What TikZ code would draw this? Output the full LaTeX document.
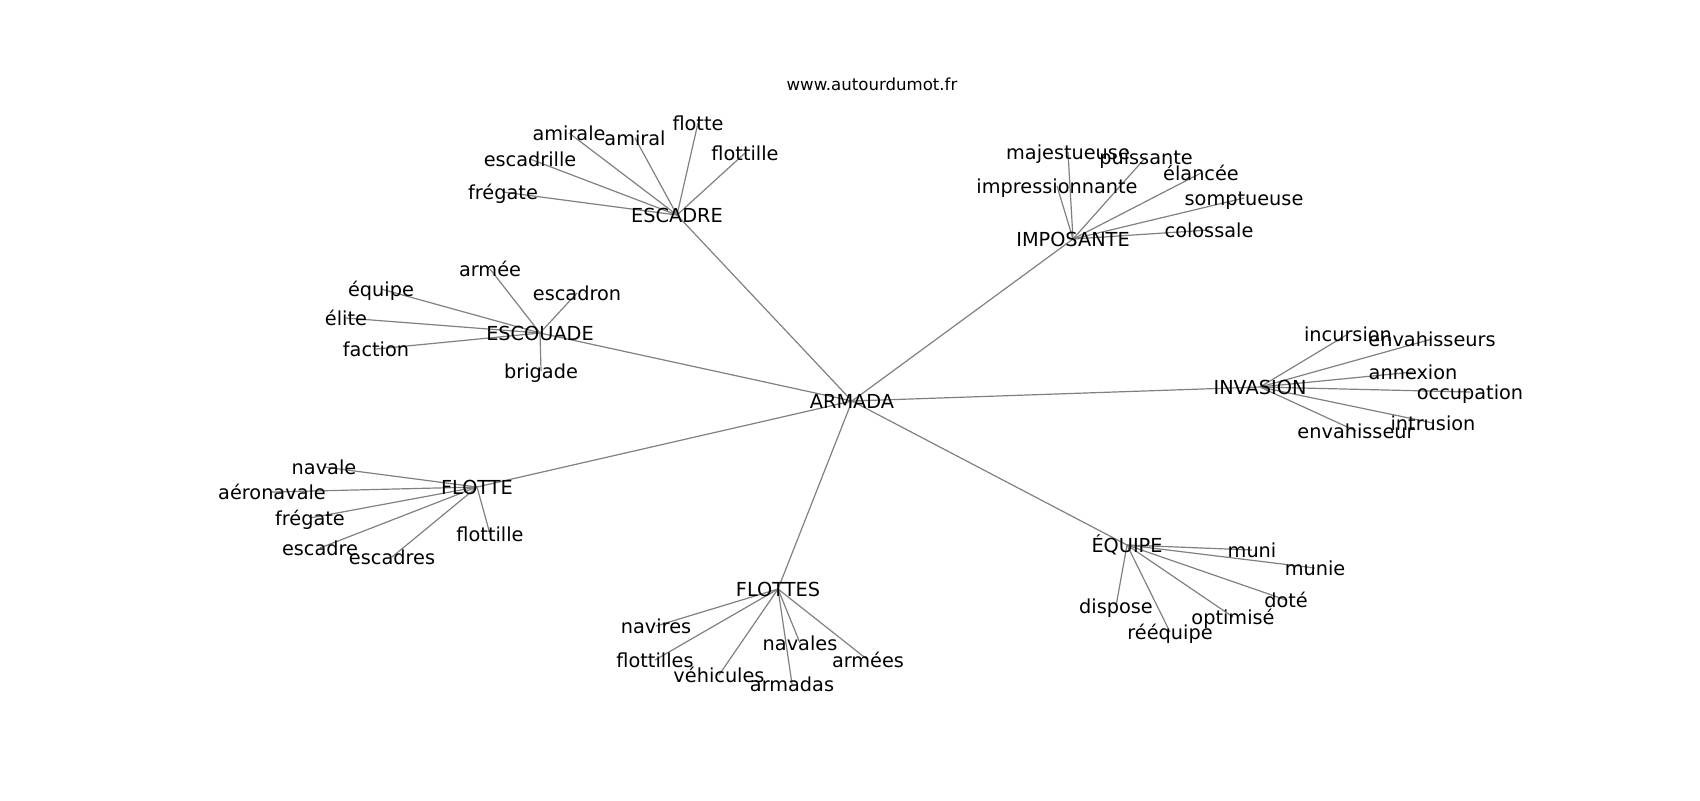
\documentclass[tikz,border=0pt]{standalone}
\usepackage{fontspec}
\setmainfont{DejaVu Sans}
\usetikzlibrary{backgrounds}
\begin{document}
\begin{tikzpicture}[x=0.5pt,y=-0.5pt,
  lbl/.style={inner sep=0pt, outer sep=0pt, font=\fontsize{9.65}{11}\selectfont, text height=0.73em, text depth=0pt, anchor=center},
  ttl/.style={inner sep=0pt, font=\fontsize{8.3}{10}\selectfont, text height=0.73em, text depth=0pt, anchor=center},
  edge/.style={draw=gray, line width=0.6pt}]
\useasboundingbox (0,0) rectangle (1700,800);
\node[ttl] (title) at (872,83) {www.autourdumot.fr};
% hub
\node[lbl] (arm) at (852,401) {ARMADA};
% clusters
\node[lbl] (esc) at (677,215) {ESCADRE};
\node[lbl] (e1) at (503,192) {frégate};
\node[lbl] (e2) at (530,159) {escadrille};
\node[lbl] (e3) at (569,133) {amirale};
\node[lbl] (e4) at (635,138) {amiral};
\node[lbl] (e5) at (698,123) {flotte};
\node[lbl] (e6) at (745,153) {flottille};
\node[lbl] (imp) at (1073,239) {IMPOSANTE};
\node[lbl] (i1) at (1068,152) {majestueuse};
\node[lbl] (i2) at (1146,157) {puissante};
\node[lbl] (i3) at (1201,173) {élancée};
\node[lbl] (i4) at (1057,186) {impressionnante};
\node[lbl] (i5) at (1244,198) {somptueuse};
\node[lbl] (i6) at (1209,230) {colossale};
\node[lbl] (scd) at (540,333) {ESCOUADE};
\node[lbl] (s1) at (490,269) {armée};
\node[lbl] (s2) at (381,289) {équipe};
\node[lbl] (s3) at (577,293) {escadron};
\node[lbl] (s4) at (346,318) {élite};
\node[lbl] (s5) at (376,349) {faction};
\node[lbl] (s6) at (541,371) {brigade};
\node[lbl] (inv) at (1260,387) {INVASION};
\node[lbl] (v1) at (1348,334) {incursion};
\node[lbl] (v2) at (1432,339) {envahisseurs};
\node[lbl] (v3) at (1413,372) {annexion};
\node[lbl] (v4) at (1470,392) {occupation};
\node[lbl] (v5) at (1433,423) {intrusion};
\node[lbl] (v6) at (1356,431) {envahisseur};
\node[lbl] (flo) at (477,487) {FLOTTE};
\node[lbl] (f1) at (324,467) {navale};
\node[lbl] (f2) at (272,492) {aéronavale};
\node[lbl] (f3) at (310,518) {frégate};
\node[lbl] (f4) at (320,548) {escadre};
\node[lbl] (f5) at (392,557) {escadres};
\node[lbl] (f6) at (490,534) {flottille};
\node[lbl] (fls) at (778,589) {FLOTTES};
\node[lbl] (t1) at (656,626) {navires};
\node[lbl] (t2) at (655,660) {flottilles};
\node[lbl] (t3) at (719,675) {véhicules};
\node[lbl] (t4) at (792,684) {armadas};
\node[lbl] (t5) at (800,643) {navales};
\node[lbl] (t6) at (868,660) {armées};
\node[lbl] (equ) at (1127,545) {ÉQUIPE};
\node[lbl] (q1) at (1252,550) {muni};
\node[lbl] (q2) at (1315,568) {munie};
\node[lbl] (q3) at (1286,600) {doté};
\node[lbl] (q4) at (1233,617) {optimisé};
\node[lbl] (q5) at (1170,632) {rééquipe};
\node[lbl] (q6) at (1116,606) {dispose};
\begin{pgfonlayer}{background}
\foreach \c in {esc,imp,scd,inv,flo,fls,equ}
  \draw[edge] (arm.center) -- (\c.center);
\foreach \c in {e1,e2,e3,e4,e5,e6}
  \draw[edge] (esc.center) -- (\c.center);
\foreach \c in {i1,i2,i3,i4,i5,i6}
  \draw[edge] (imp.center) -- (\c.center);
\foreach \c in {s1,s2,s3,s4,s5,s6}
  \draw[edge] (scd.center) -- (\c.center);
\foreach \c in {v1,v2,v3,v4,v5,v6}
  \draw[edge] (inv.center) -- (\c.center);
\foreach \c in {f1,f2,f3,f4,f5,f6}
  \draw[edge] (flo.center) -- (\c.center);
\foreach \c in {t1,t2,t3,t4,t5,t6}
  \draw[edge] (fls.center) -- (\c.center);
\foreach \c in {q1,q2,q3,q4,q5,q6}
  \draw[edge] (equ.center) -- (\c.center);
\end{pgfonlayer}
\end{tikzpicture}
\end{document}
